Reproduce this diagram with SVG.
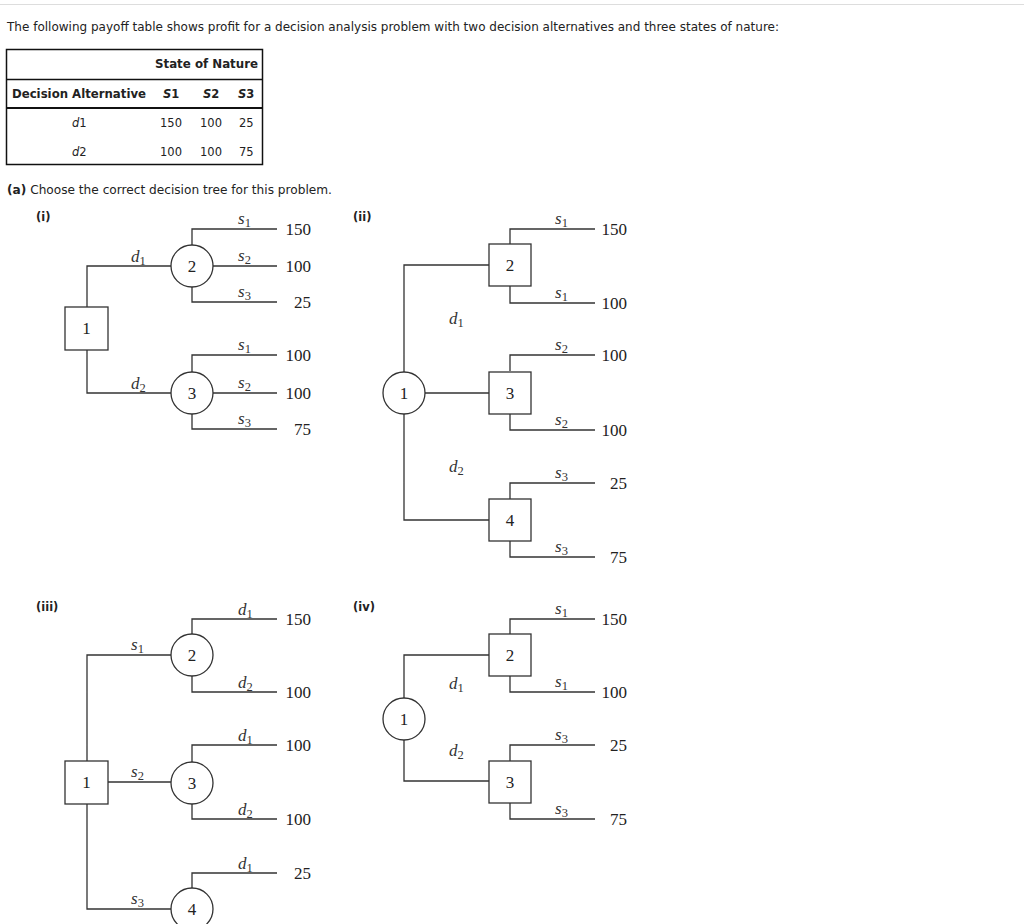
<svg xmlns="http://www.w3.org/2000/svg" width="1024" height="924" viewBox="0 0 1024 924">
<style>
.ui{font-family:"DejaVu Sans",Verdana,sans-serif;font-size:11.5px;fill:#222}
.b{font-weight:bold}
.tm{font-family:"Liberation Serif","Times New Roman",serif;font-size:17px;fill:#222}
.lab{font-family:"Liberation Serif","Times New Roman",serif;font-size:17px;fill:#333;font-style:italic}
.sub{font-style:normal;font-size:12.5px}
.val{text-anchor:end}
.num{text-anchor:middle}
.ln{fill:none;stroke:#333;stroke-width:1.3}
.nd{fill:#fff;stroke:#333;stroke-width:1.3}
.tb{fill:none;stroke:#111;stroke-width:1.5}
</style>
<rect width="1024" height="924" fill="#fff"/>
<line x1="0" y1="4.5" x2="1024" y2="4.5" stroke="#ddd" stroke-width="1"/>
<text class="ui" x="7" y="31" textLength="772" lengthAdjust="spacingAndGlyphs">The following payoff table shows profit for a decision analysis problem with two decision alternatives and three states of nature:</text>

<g id="payoff-table">
<rect class="tb" x="6.5" y="49.5" width="256" height="115"/>
<line class="tb" x1="6.5" y1="79.5" x2="262.5" y2="79.5"/>
<line x1="6.5" y1="108" x2="262.5" y2="108" stroke="#111" stroke-width="2.2"/>
<text class="ui b" x="155" y="68" textLength="103" lengthAdjust="spacingAndGlyphs">State of Nature</text>
<text class="ui b" x="12" y="98" textLength="134" lengthAdjust="spacingAndGlyphs">Decision Alternative</text>
<text class="ui b" x="163" y="98"><tspan font-style="italic">S</tspan>1</text>
<text class="ui b" x="203" y="98"><tspan font-style="italic">S</tspan>2</text>
<text class="ui b" x="238" y="98"><tspan font-style="italic">S</tspan>3</text>
<text class="ui" x="72" y="127"><tspan font-style="italic">d</tspan>1</text>
<text class="ui" x="72" y="156"><tspan font-style="italic">d</tspan>2</text>
<text class="ui" x="160" y="127">150</text>
<text class="ui" x="200" y="127">100</text>
<text class="ui" x="239" y="127">25</text>
<text class="ui" x="160" y="156">100</text>
<text class="ui" x="200" y="156">100</text>
<text class="ui" x="239" y="156">75</text>
</g>

<text class="ui" x="7" y="194" textLength="325" lengthAdjust="spacingAndGlyphs"><tspan class="b">(a)</tspan> Choose the correct decision tree for this problem.</text>

<text class="ui b" x="36" y="221">(i)</text>
<text class="ui b" x="353" y="221">(ii)</text>
<text class="ui b" x="36" y="611">(iii)</text>
<text class="ui b" x="353" y="611">(iv)</text>

<g id="connectors">
<path class="ln" d="M87,307 V266 H171 M87,350 V393 H171 M192,245 V229 H277 M213,266 H277 M192,287 V302 H277 M192,372 V355 H277 M213,393 H277 M192,414 V429 H277"/>
<path class="ln" d="M404,372 V265 H489 M425,393 H489 M404,414 V520 H489 M510,244 V229 H595 M510,286 V303 H595 M510,371 V355 H595 M510,414 V430 H595 M510,499 V483 H595 M510,541 V557 H595"/>
<path class="ln" d="M87,761 V655 H171 M108,782 H171 M87,804 V909 H171 M192,634 V619 H277 M192,676 V692 H277 M192,762 V745 H277 M192,804 V819 H277 M192,888 V873 H277"/>
<path class="ln" d="M404,698 V655 H489 M404,740 V781 H489 M510,634 V619 H595 M510,676 V692 H595 M510,761 V745 H595 M510,803 V819 H595"/>
</g>

<g id="i-node1"><rect class="nd" x="65" y="307" width="43" height="43"/><text class="tm num" x="86.5" y="334">1</text></g>
<g id="i-node2"><circle class="nd" cx="192" cy="266" r="21"/><text class="tm num" x="192" y="272">2</text></g>
<g id="i-node3"><circle class="nd" cx="192" cy="393" r="21"/><text class="tm num" x="192" y="399">3</text></g>
<g id="i-labels">
<text class="lab" x="131" y="262">d<tspan class="sub" dy="3">1</tspan></text>
<text class="lab" x="131" y="389">d<tspan class="sub" dy="3">2</tspan></text>
<text class="lab" x="238" y="224">s<tspan class="sub" dy="3">1</tspan></text>
<text class="lab" x="238" y="261">s<tspan class="sub" dy="3">2</tspan></text>
<text class="lab" x="238" y="297">s<tspan class="sub" dy="3">3</tspan></text>
<text class="lab" x="238" y="350">s<tspan class="sub" dy="3">1</tspan></text>
<text class="lab" x="238" y="388">s<tspan class="sub" dy="3">2</tspan></text>
<text class="lab" x="238" y="424">s<tspan class="sub" dy="3">3</tspan></text>
<text class="tm val" x="311" y="234.5">150</text>
<text class="tm val" x="311" y="271.5">100</text>
<text class="tm val" x="311" y="307.5">25</text>
<text class="tm val" x="311" y="360.5">100</text>
<text class="tm val" x="311" y="398.5">100</text>
<text class="tm val" x="311" y="434.5">75</text>
</g>

<g id="ii-node1"><circle class="nd" cx="404" cy="393" r="21"/><text class="tm num" x="404" y="399">1</text></g>
<g id="ii-node2"><rect class="nd" x="489" y="244" width="42" height="42"/><text class="tm num" x="510" y="271">2</text></g>
<g id="ii-node3"><rect class="nd" x="489" y="372" width="42" height="42"/><text class="tm num" x="510" y="399">3</text></g>
<g id="ii-node4"><rect class="nd" x="489" y="499" width="42" height="42"/><text class="tm num" x="510" y="526">4</text></g>
<g id="ii-labels">
<text class="lab" x="449" y="324">d<tspan class="sub" dy="3">1</tspan></text>
<text class="lab" x="449" y="472">d<tspan class="sub" dy="3">2</tspan></text>
<text class="lab" x="555" y="224">s<tspan class="sub" dy="3">1</tspan></text>
<text class="lab" x="555" y="298">s<tspan class="sub" dy="3">1</tspan></text>
<text class="lab" x="555" y="350">s<tspan class="sub" dy="3">2</tspan></text>
<text class="lab" x="555" y="425">s<tspan class="sub" dy="3">2</tspan></text>
<text class="lab" x="555" y="478">s<tspan class="sub" dy="3">3</tspan></text>
<text class="lab" x="555" y="552">s<tspan class="sub" dy="3">3</tspan></text>
<text class="tm val" x="627" y="234.5">150</text>
<text class="tm val" x="627" y="308.5">100</text>
<text class="tm val" x="627" y="360.5">100</text>
<text class="tm val" x="627" y="435.5">100</text>
<text class="tm val" x="627" y="488.5">25</text>
<text class="tm val" x="627" y="562.5">75</text>
</g>

<g id="iii-node1"><rect class="nd" x="65" y="761" width="43" height="43"/><text class="tm num" x="86.5" y="788">1</text></g>
<g id="iii-node2"><circle class="nd" cx="192" cy="655" r="21"/><text class="tm num" x="192" y="661">2</text></g>
<g id="iii-node3"><circle class="nd" cx="192" cy="783" r="21"/><text class="tm num" x="192" y="789">3</text></g>
<g id="iii-node4"><circle class="nd" cx="192" cy="909" r="21"/><text class="tm num" x="192" y="915">4</text></g>
<g id="iii-labels">
<text class="lab" x="131" y="650">s<tspan class="sub" dy="3">1</tspan></text>
<text class="lab" x="131" y="777">s<tspan class="sub" dy="3">2</tspan></text>
<text class="lab" x="131" y="904">s<tspan class="sub" dy="3">3</tspan></text>
<text class="lab" x="238" y="615">d<tspan class="sub" dy="3">1</tspan></text>
<text class="lab" x="238" y="688">d<tspan class="sub" dy="3">2</tspan></text>
<text class="lab" x="238" y="741">d<tspan class="sub" dy="3">1</tspan></text>
<text class="lab" x="238" y="815">d<tspan class="sub" dy="3">2</tspan></text>
<text class="lab" x="238" y="869">d<tspan class="sub" dy="3">1</tspan></text>
<text class="tm val" x="311" y="624.5">150</text>
<text class="tm val" x="311" y="697.5">100</text>
<text class="tm val" x="311" y="750.5">100</text>
<text class="tm val" x="311" y="824.5">100</text>
<text class="tm val" x="311" y="878.5">25</text>
</g>

<g id="iv-node1"><circle class="nd" cx="404" cy="719" r="21"/><text class="tm num" x="404" y="725">1</text></g>
<g id="iv-node2"><rect class="nd" x="489" y="634" width="42" height="42"/><text class="tm num" x="510" y="661">2</text></g>
<g id="iv-node3"><rect class="nd" x="489" y="761" width="42" height="42"/><text class="tm num" x="510" y="788">3</text></g>
<g id="iv-labels">
<text class="lab" x="449" y="689">d<tspan class="sub" dy="3">1</tspan></text>
<text class="lab" x="449" y="756">d<tspan class="sub" dy="3">2</tspan></text>
<text class="lab" x="555" y="614">s<tspan class="sub" dy="3">1</tspan></text>
<text class="lab" x="555" y="687">s<tspan class="sub" dy="3">1</tspan></text>
<text class="lab" x="555" y="740">s<tspan class="sub" dy="3">3</tspan></text>
<text class="lab" x="555" y="814">s<tspan class="sub" dy="3">3</tspan></text>
<text class="tm val" x="627" y="624.5">150</text>
<text class="tm val" x="627" y="697.5">100</text>
<text class="tm val" x="627" y="750.5">25</text>
<text class="tm val" x="627" y="824.5">75</text>
</g>
</svg>
